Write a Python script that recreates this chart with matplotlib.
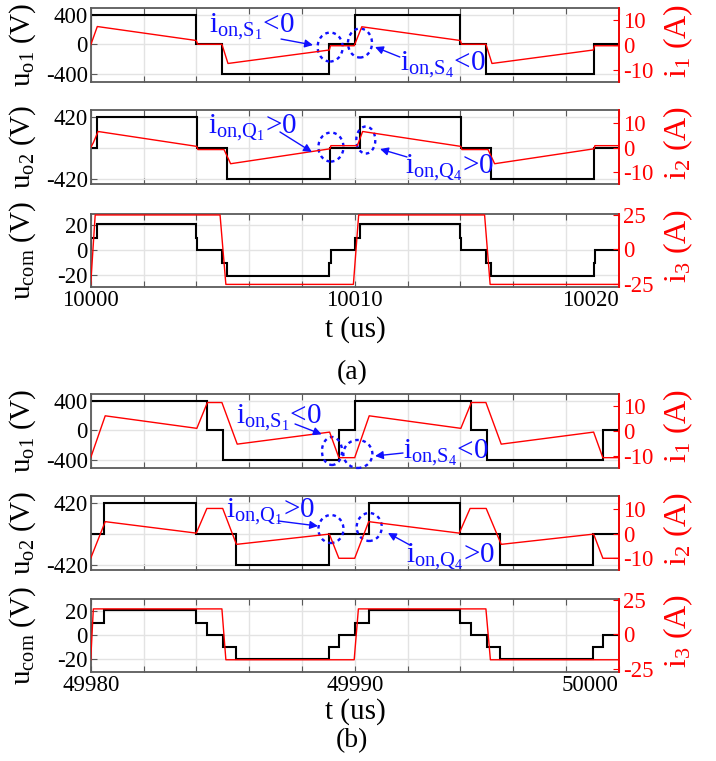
import numpy as np
import matplotlib.pyplot as plt
from matplotlib.patches import Ellipse

plt.rcParams['font.family'] = 'Liberation Serif'
plt.rcParams['mathtext.fontset'] = 'custom'
plt.rcParams['mathtext.rm'] = 'Liberation Serif'
plt.rcParams['mathtext.it'] = 'Liberation Serif:italic'
plt.rcParams['axes.unicode_minus'] = False

# ---------------- (a) 10000 - 10020 us ----------------
uo1_a_edges = [10000, 10000.02, 10004.0, 10004.97, 10009.04, 10010.01, 10014.0, 10014.97, 10019.05, 10020]
uo1_a_levels = [0, 400, 0, -400, 0, 400, 0, -400, 0]
i1_a_t = [10000, 10000.25, 10004.0, 10004.05, 10004.97, 10005.2, 10009.04, 10009.08, 10009.98,
          10010.27, 10014.0, 10014.05, 10014.97, 10015.2, 10019.04, 10019.08, 10020]
i1_a = [0, 7.4, 1.8, 0.3, 0.3, -7.4, -2.0, -0.3, -0.3, 7.3, 1.8, 0.3, 0.3, -7.4, -2.0, -0.3, -0.3]

uo2_a_edges = [10000, 10000.22, 10004.02, 10005.17, 10009.08, 10010.2, 10014.02, 10015.17, 10019.08, 10020]
uo2_a_levels = [0, 420, 0, -420, 0, 420, 0, -420, 0]
i2_a_t = [10000, 10000.1, 10000.28, 10004.02, 10004.06, 10005.05, 10005.3, 10009.06, 10009.1,
          10010.1, 10010.3, 10014.02, 10014.06, 10015.05, 10015.3, 10019.06, 10019.1, 10020]
i2_a = [0, 2, 6.6, 0.5, -0.8, -0.8, -6.6, -0.5, 0.8, 0.8, 6.6, 0.5, -0.8, -0.8, -6.6, -0.5, 0.8, 0.8]

ucom_a_edges = [10000, 10000.03, 10000.22, 10004.0, 10004.03, 10004.97, 10005.17, 10009.04, 10009.09,
                10010.01, 10010.2, 10014.0, 10014.03, 10014.97, 10015.17, 10019.05, 10019.09, 10020]
ucom_a_levels = [0, 10, 20.5, 10, 0, -10, -20.5, -10, 0, 10, 20.5, 10, 0, -10, -20.5, -10, 0]
i3_a_t = [10000, 10000.17, 10004.9, 10005.12, 10009.95, 10010.15, 10014.92, 10015.13, 10020]
i3_a = [-25.5, 25, 25, -25.5, -25.5, 25, 25, -25.5, -25.5]

# ---------------- (b) 49980 - 50000 us ----------------
uo1_b_edges = [49980, 49984.4, 49985.0, 49989.4, 49990.0, 49994.4, 49995.0, 49999.4, 50000]
uo1_b_levels = [400, 0, -400, 0, 400, 0, -400, 0]
i1_b_t = [49980, 49980.55, 49984.02, 49984.42, 49984.97, 49985.55, 49989.05, 49989.4, 49990.0,
          49990.55, 49994.02, 49994.42, 49994.97, 49995.55, 49999.05, 49999.4, 50000]
i1_b = [-10.7, 6.0, 1.0, 11.3, 11.3, -5.3, -0.5, -10.7, -10.7, 6.0, 1.0, 11.3, 11.3, -5.3, -0.5, -10.7, -10.7]

uo2_b_edges = [49980, 49980.52, 49984.0, 49985.5, 49989.03, 49990.53, 49993.99, 49995.52, 49999.04, 50000]
uo2_b_levels = [0, 420, 0, -420, 0, 420, 0, -420, 0]
i2_b_t = [49980, 49980.55, 49984.0, 49984.4, 49985.0, 49985.52, 49989.04, 49989.4, 49990.0,
          49990.53, 49993.96, 49994.37, 49994.98, 49995.55, 49999.05, 49999.4, 50000]
i2_b = [-10.1, 4.9, 0.2, 10.3, 10.3, -4.4, -0.2, -10.1, -10.1, 4.9, 0.2, 10.3, 10.3, -4.4, -0.2, -10.1, -10.1]

ucom_b_edges = [49980, 49980.03, 49980.52, 49984.0, 49984.4, 49985.0, 49985.5, 49989.03, 49989.4,
                49990.0, 49990.53, 49993.99, 49994.4, 49995.0, 49995.52, 49999.04, 49999.4, 50000]
ucom_b_levels = [0, 10, 20.5, 10, 0, -10, -20.5, -10, 0, 10, 20.5, 10, 0, -10, -20.5, -10, 0]
i3_b_t = [49980, 49980.1, 49984.97, 49985.12, 49989.98, 49990.14, 49994.97, 49995.14, 50000]
i3_b = [-18.5, 18.5, 18.5, -18.5, -18.5, 18.5, 18.5, -18.5, -18.5]

GRAY = '#5a5a5a'
BLUE = '#1010ff'
W, H = 716, 761

fig = plt.figure(figsize=(7.16, 7.61), dpi=100)


def panel(top, bot, t0, edges, levels, ti, iv, ylim_l, ylim_r, yt_l, ytl_l, yt_r,
          ylabel, rlabel, xlabels=False):
    ax = fig.add_axes([90.7 / W, 1 - bot / H, 528 / W, (bot - top) / H])
    ax.stairs(levels, edges, baseline=None, color='k', lw=1.5)
    ax.set_xlim(t0, t0 + 20)
    ax.set_ylim(*ylim_l)
    xt = np.arange(t0, t0 + 21, 2)
    if xlabels:
        labs = [str(int(v)) if (v - t0) % 10 == 0 else '' for v in xt]
    else:
        labs = [''] * len(xt)
    ax.set_xticks(xt, labs)
    ax.set_yticks(yt_l, ytl_l)
    ax.grid(True, color='#e3e3e3', lw=1)
    ax.set_axisbelow(True)
    ax.tick_params(direction='in', length=4, color=GRAY, labelsize=16.5, pad=2, top=True)
    for s in ax.spines.values():
        s.set_color(GRAY)
        s.set_linewidth(1.3)
    ax.set_ylabel(ylabel, fontsize=21)
    ax.yaxis.set_label_coords(-0.10, 0.5)
    if xlabels:
        ax.get_xticklabels()[-1].set_ha('right')

    ax2 = ax.twinx()
    ax2.plot(ti, iv, color='r', lw=1)
    ax2.set_ylim(*ylim_r)
    ax2.set_yticks(yt_r)
    ax2.tick_params(direction='in', length=4, color='r', labelcolor='r', labelsize=16.5, pad=3)
    for k in ['left', 'top', 'bottom']:
        ax2.spines[k].set_visible(False)
    ax2.spines['right'].set_color('r')
    ax2.spines['right'].set_linewidth(1.3)
    ax2.set_ylabel(rlabel, fontsize=23, color='r')
    ax2.yaxis.set_label_coords(1.08, 0.56)
    return ax, ax2


def mark(ax, ax2, txt, txy, head, tail, ell):
    ax2.text(txy[0], txy[1], txt, transform=ax.transData, color=BLUE, fontsize=21,
             ha='left', va='baseline', clip_on=False)
    ax2.annotate('', xy=head, xycoords=ax.transData, xytext=tail, textcoords=ax.transData,
                 arrowprops=dict(arrowstyle='-|>', color=BLUE, lw=1, mutation_scale=12,
                                 shrinkA=0, shrinkB=0))
    ax2.add_patch(Ellipse(ell[0], ell[1], ell[2], transform=ax.transData, fill=False,
                          ec=BLUE, lw=1.7, ls=(0, (1.5, 1.6)), clip_on=False))


# (a)
a1, b1 = panel(8.3, 81.7, 10000, uo1_a_edges, uo1_a_levels, i1_a_t, i1_a, (-504, 489), (-14.7, 14.7),
               [-400, 0, 400], ['-400', '0', '400'], [-10, 0, 10],
               r'$\mathrm{u_{o1}}$ (V)', r'$\mathrm{i_1}$ (A)')
a2, b2 = panel(110, 184, 10000, uo2_a_edges, uo2_a_levels, i2_a_t, i2_a, (-493, 520), (-14.9, 15.4),
               [-420, 0, 420], ['-420', '', '420'], [-10, 0, 10],
               r'$\mathrm{u_{o2}}$ (V)', r'$\mathrm{i_2}$ (A)')
a3, b3 = panel(214, 287, 10000, ucom_a_edges, ucom_a_levels, i3_a_t, i3_a, (-29.3, 28.8), (-27.4, 25.7),
               [-20, 0, 20], ['-20', '0', '20'], [-25, 0, 25],
               r'$\mathrm{u_{com}}$ (V)', r'$\mathrm{i_3}$ (A)', xlabels=True)

mark(a1, b1, r'$\mathrm{i_{on{,}S_1}}$<0', (10004.48, 168), (10008.42, -8), (10007.21, 73),
     ((10009.07, -35), 0.95, 392))
mark(a1, b1, r'$\mathrm{i_{on{,}S_4}}$<0', (10011.71, -346), (10010.77, -35), (10011.71, -170),
     ((10010.2, 19), 0.91, 392))
mark(a2, b2, r'$\mathrm{i_{on{,}Q_1}}$>0', (10004.44, 205), (10008.38, -55), (10007.17, 219),
     ((10009.1, 13), 0.95, 397))
mark(a2, b2, r'$\mathrm{i_{on{,}Q_4}}$>0', (10011.9, -342), (10010.96, -14), (10011.98, -123),
     ((10010.42, 109), 0.72, 370))

# (b)
a4, b4 = panel(394, 467.7, 49980, uo1_b_edges, uo1_b_levels, i1_b_t, i1_b, (-504, 489), (-14.7, 14.7),
               [-400, 0, 400], ['-400', '0', '400'], [-10, 0, 10],
               r'$\mathrm{u_{o1}}$ (V)', r'$\mathrm{i_1}$ (A)')
a5, b5 = panel(496, 570, 49980, uo2_b_edges, uo2_b_levels, i2_b_t, i2_b, (-493, 520), (-14.9, 15.4),
               [-420, 0, 420], ['-420', '', '420'], [-10, 0, 10],
               r'$\mathrm{u_{o2}}$ (V)', r'$\mathrm{i_2}$ (A)')
a6, b6 = panel(599, 672, 49980, ucom_b_edges, ucom_b_levels, i3_b_t, i3_b, (-31.1, 29.7), (-27.4, 25.7),
               [-20, 0, 20], ['-20', '0', '20'], [-25, 0, 25],
               r'$\mathrm{u_{com}}$ (V)', r'$\mathrm{i_3}$ (A)', xlabels=True)

mark(a4, b4, r'$\mathrm{i_{on{,}S_1}}$<0', (49985.5, 98), (49988.75, -54), (49987.74, 85),
     ((49989.14, -279), 0.76, 377))
mark(a4, b4, r'$\mathrm{i_{on{,}S_4}}$<0', (49991.83, -373), (49990.77, -346), (49991.83, -306),
     ((49990.12, -319), 1.1, 377))
mark(a5, b5, r'$\mathrm{i_{on{,}Q_1}}$>0', (49985.12, 233), (49988.61, 109), (49987.1, 178),
     ((49989.1, 68), 0.95, 383))
mark(a5, b5, r'$\mathrm{i_{on{,}Q_4}}$>0', (49991.94, -383), (49991.26, 13), (49992.09, -151),
     ((49990.55, 96), 0.95, 383))

fig.text(355 / W, 1 - 330 / H, 't (us)', ha='center', va='center', fontsize=21)
fig.text(352 / W, 1 - 373 / H, '(a)', ha='center', va='center', fontsize=20)
fig.text(355 / W, 1 - 712 / H, 't (us)', ha='center', va='center', fontsize=21)
fig.text(352 / W, 1 - 741 / H, '(b)', ha='center', va='center', fontsize=20)

fig.savefig('out.png', dpi=100)
